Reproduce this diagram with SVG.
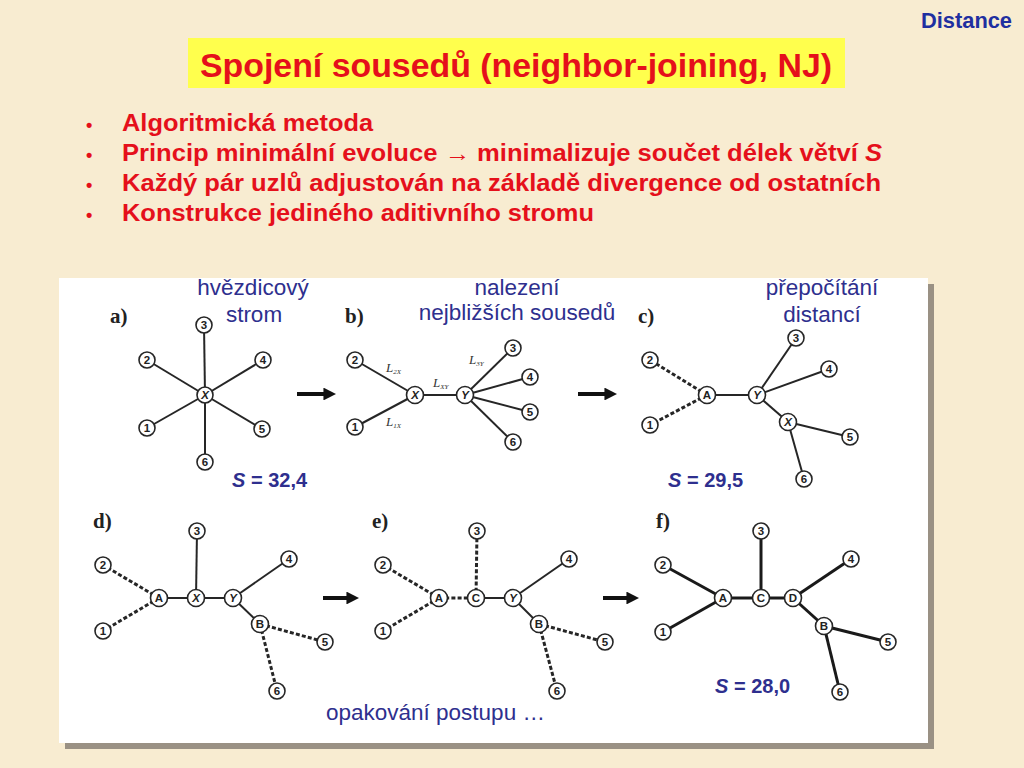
<svg xmlns="http://www.w3.org/2000/svg" width="1024" height="768" viewBox="0 0 1024 768">
<defs>
<style>
.bg{fill:#f8ecd1}
.red{font-family:"Liberation Sans",Arial,sans-serif;font-weight:bold;fill:#e5101b}
.blue{font-family:"Liberation Sans",Arial,sans-serif;fill:#2e2f8e}
.pl{font-family:"Liberation Serif","Times New Roman",serif;font-weight:bold;font-size:21px;fill:#222}
.e{stroke:#262626;stroke-width:2;fill:none}
.d{stroke:#262626;stroke-width:3;stroke-dasharray:4 2.2;fill:none}
.t{stroke:#1a1a1a;stroke-width:3;fill:none}
.n circle{fill:#fff;stroke:#262626;stroke-width:1.6}
.n text{font-family:"Liberation Sans",Arial,sans-serif;font-size:11.5px;font-weight:bold;fill:#222;text-anchor:middle}
.n text.i{font-style:italic}
.lab{font-family:"Liberation Serif","Times New Roman",serif;font-style:italic;font-size:13px;fill:#333}
.lab tspan.s{font-size:7px}
.arr{stroke:#111;stroke-width:4;fill:none}
</style>
<marker id="ah" viewBox="0 0 10 10" refX="2" refY="5" markerWidth="3.2" markerHeight="3.2" orient="auto" markerUnits="strokeWidth">
<path d="M0,0 L10,5 L0,10 z" fill="#111"/>
</marker>
</defs>
<rect class="bg" x="0" y="0" width="1024" height="768"/>
<g id="header">
<text x="1012" y="28" font-family="Liberation Sans, Arial, sans-serif" font-size="22" font-weight="bold" text-anchor="end" fill="#1f2fa0" textLength="91" lengthAdjust="spacingAndGlyphs">Distance</text>
<rect x="188" y="38" width="657" height="50" fill="#ffff4d"/>
<text class="red" x="516" y="77" font-size="34" text-anchor="middle" textLength="632" lengthAdjust="spacingAndGlyphs">Spojení sousedů (neighbor-joining, NJ)</text>
</g>
<g id="bullets" class="red" font-size="23">
<text x="86" y="131" font-size="18">•</text>
<text x="122" y="131" textLength="251" lengthAdjust="spacingAndGlyphs">Algoritmická metoda</text>
<text x="86" y="161" font-size="18">•</text>
<text x="122" y="161" textLength="760" lengthAdjust="spacingAndGlyphs">Princip minimální evoluce → minimalizuje součet délek větví <tspan font-style="italic">S</tspan></text>
<text x="86" y="191" font-size="18">•</text>
<text x="122" y="191" textLength="759" lengthAdjust="spacingAndGlyphs">Každý pár uzlů adjustován na základě divergence od ostatních</text>
<text x="86" y="221" font-size="18">•</text>
<text x="122" y="221" textLength="472" lengthAdjust="spacingAndGlyphs">Konstrukce jediného aditivního stromu</text>
</g>
<g id="panel">
<rect x="65" y="284" width="869" height="465" fill="#9a9184"/>
<rect x="59" y="278" width="869" height="465" fill="#ffffff"/>
</g>
<g id="labels">
<text class="pl" x="110" y="323">a)</text>
<text class="pl" x="345" y="323">b)</text>
<text class="pl" x="638" y="323">c)</text>
<text class="pl" x="93" y="528">d)</text>
<text class="pl" x="372" y="528">e)</text>
<text class="pl" x="656" y="528">f)</text>
<text class="blue" font-size="22.5" text-anchor="middle" x="253" y="295">hvězdicový</text>
<text class="blue" font-size="22.5" text-anchor="middle" x="254" y="322">strom</text>
<text class="blue" font-size="22.5" text-anchor="middle" x="517" y="295">nalezení</text>
<text class="blue" font-size="22.5" text-anchor="middle" x="517" y="320">nejbližších sousedů</text>
<text class="blue" font-size="22.5" text-anchor="middle" x="822" y="295">přepočítání</text>
<text class="blue" font-size="22.5" text-anchor="middle" x="822" y="322">distancí</text>
<text class="blue" font-size="20" font-weight="bold" x="232" y="487"><tspan font-style="italic">S</tspan> = 32,4</text>
<text class="blue" font-size="20" font-weight="bold" x="668" y="487"><tspan font-style="italic">S</tspan> = 29,5</text>
<text class="blue" font-size="20" font-weight="bold" x="715" y="693"><tspan font-style="italic">S</tspan> = 28,0</text>
<text class="blue" font-size="22.5" x="326" y="720">opakování postupu …</text>
<text class="lab" x="386" y="372">L<tspan class="s" dy="2">2X</tspan></text>
<text class="lab" x="386" y="426">L<tspan class="s" dy="2">1X</tspan></text>
<text class="lab" x="433" y="387">L<tspan class="s" dy="2">XY</tspan></text>
<text class="lab" x="469" y="364">L<tspan class="s" dy="2">3Y</tspan></text>
</g>
<g id="connectors">
<line class="e" x1="205" y1="395" x2="204" y2="325"/>
<line class="e" x1="205" y1="395" x2="147" y2="360"/>
<line class="e" x1="205" y1="395" x2="263" y2="360"/>
<line class="e" x1="205" y1="395" x2="147" y2="428"/>
<line class="e" x1="205" y1="395" x2="262" y2="429"/>
<line class="e" x1="205" y1="395" x2="205" y2="462"/>
<line class="arr" x1="297" y1="394" x2="326" y2="394" marker-end="url(#ah)"/>
<line class="e" x1="415" y1="395" x2="355" y2="360"/>
<line class="e" x1="415" y1="395" x2="355" y2="427"/>
<line class="e" x1="415" y1="395" x2="465" y2="395"/>
<line class="e" x1="465" y1="395" x2="513" y2="348"/>
<line class="e" x1="465" y1="395" x2="530" y2="377"/>
<line class="e" x1="465" y1="395" x2="530" y2="412"/>
<line class="e" x1="465" y1="395" x2="513" y2="442"/>
<line class="arr" x1="578" y1="394" x2="607" y2="394" marker-end="url(#ah)"/>
<line class="d" x1="707" y1="395" x2="650" y2="360"/>
<line class="d" x1="707" y1="395" x2="650" y2="425"/>
<line class="e" x1="707" y1="395" x2="757" y2="395"/>
<line class="e" x1="757" y1="395" x2="796" y2="338"/>
<line class="e" x1="757" y1="395" x2="829" y2="369"/>
<line class="e" x1="757" y1="395" x2="788" y2="422"/>
<line class="e" x1="788" y1="422" x2="850" y2="437"/>
<line class="e" x1="788" y1="422" x2="804" y2="479"/>
<line class="d" x1="159" y1="598" x2="103" y2="565"/>
<line class="d" x1="159" y1="598" x2="103" y2="631"/>
<line class="e" x1="159" y1="598" x2="233" y2="598"/>
<line class="e" x1="196" y1="598" x2="197" y2="531"/>
<line class="e" x1="233" y1="598" x2="289" y2="559"/>
<line class="e" x1="233" y1="598" x2="260" y2="624"/>
<line class="d" x1="260" y1="624" x2="325" y2="642"/>
<line class="d" x1="260" y1="624" x2="277" y2="691"/>
<line class="arr" x1="323" y1="598" x2="349" y2="598" marker-end="url(#ah)"/>
<line class="d" x1="439" y1="598" x2="383" y2="565"/>
<line class="d" x1="439" y1="598" x2="383" y2="631"/>
<line class="d" x1="439" y1="598" x2="476" y2="598"/>
<line class="d" x1="476" y1="598" x2="477" y2="531"/>
<line class="e" x1="476" y1="598" x2="513" y2="598"/>
<line class="e" x1="513" y1="598" x2="569" y2="559"/>
<line class="e" x1="513" y1="598" x2="539" y2="624"/>
<line class="d" x1="539" y1="624" x2="605" y2="642"/>
<line class="d" x1="539" y1="624" x2="557" y2="691"/>
<line class="arr" x1="603" y1="598" x2="629" y2="598" marker-end="url(#ah)"/>
<line class="t" x1="723" y1="598" x2="663" y2="565"/>
<line class="t" x1="723" y1="598" x2="663" y2="632"/>
<line class="t" x1="723" y1="598" x2="793" y2="598"/>
<line class="t" x1="761" y1="598" x2="761" y2="531"/>
<line class="t" x1="793" y1="598" x2="851" y2="559"/>
<line class="t" x1="793" y1="598" x2="824" y2="626"/>
<line class="t" x1="824" y1="626" x2="888" y2="642"/>
<line class="t" x1="824" y1="626" x2="840" y2="692"/>
</g>
<g id="tree-a">
<g id="a-X" class="n"><circle cx="205" cy="395" r="8"/><text class="i" x="205" y="399">X</text></g>
<g id="a-1" class="n"><circle cx="147" cy="428" r="8"/><text x="147" y="432">1</text></g>
<g id="a-2" class="n"><circle cx="147" cy="360" r="8"/><text x="147" y="364">2</text></g>
<g id="a-3" class="n"><circle cx="204" cy="325" r="8"/><text x="204" y="329">3</text></g>
<g id="a-4" class="n"><circle cx="263" cy="360" r="8"/><text x="263" y="364">4</text></g>
<g id="a-5" class="n"><circle cx="262" cy="429" r="8"/><text x="262" y="433">5</text></g>
<g id="a-6" class="n"><circle cx="205" cy="462" r="8"/><text x="205" y="466">6</text></g>
</g>
<g id="tree-b">
<g id="b-X" class="n"><circle cx="415" cy="395" r="8.5"/><text class="i" x="415" y="399">X</text></g>
<g id="b-Y" class="n"><circle cx="465" cy="395" r="8.5"/><text class="i" x="465" y="399">Y</text></g>
<g id="b-1" class="n"><circle cx="355" cy="427" r="8"/><text x="355" y="431">1</text></g>
<g id="b-2" class="n"><circle cx="355" cy="360" r="8"/><text x="355" y="364">2</text></g>
<g id="b-3" class="n"><circle cx="513" cy="348" r="8"/><text x="513" y="352">3</text></g>
<g id="b-4" class="n"><circle cx="530" cy="377" r="8"/><text x="530" y="381">4</text></g>
<g id="b-5" class="n"><circle cx="530" cy="412" r="8"/><text x="530" y="416">5</text></g>
<g id="b-6" class="n"><circle cx="513" cy="442" r="8"/><text x="513" y="446">6</text></g>
</g>
<g id="tree-c">
<g id="c-A" class="n"><circle cx="707" cy="395" r="8.5"/><text x="707" y="399">A</text></g>
<g id="c-Y" class="n"><circle cx="757" cy="395" r="8.5"/><text class="i" x="757" y="399">Y</text></g>
<g id="c-X" class="n"><circle cx="788" cy="422" r="8.5"/><text class="i" x="788" y="426">X</text></g>
<g id="c-1" class="n"><circle cx="650" cy="425" r="8"/><text x="650" y="429">1</text></g>
<g id="c-2" class="n"><circle cx="650" cy="360" r="8"/><text x="650" y="364">2</text></g>
<g id="c-3" class="n"><circle cx="796" cy="338" r="8"/><text x="796" y="342">3</text></g>
<g id="c-4" class="n"><circle cx="829" cy="369" r="8"/><text x="829" y="373">4</text></g>
<g id="c-5" class="n"><circle cx="850" cy="437" r="8"/><text x="850" y="441">5</text></g>
<g id="c-6" class="n"><circle cx="804" cy="479" r="8"/><text x="804" y="483">6</text></g>
</g>
<g id="tree-d">
<g id="d-A" class="n"><circle cx="159" cy="598" r="8.5"/><text x="159" y="602">A</text></g>
<g id="d-X" class="n"><circle cx="196" cy="598" r="8.5"/><text class="i" x="196" y="602">X</text></g>
<g id="d-Y" class="n"><circle cx="233" cy="598" r="8.5"/><text class="i" x="233" y="602">Y</text></g>
<g id="d-B" class="n"><circle cx="260" cy="624" r="8.5"/><text x="260" y="628">B</text></g>
<g id="d-1" class="n"><circle cx="103" cy="631" r="8"/><text x="103" y="635">1</text></g>
<g id="d-2" class="n"><circle cx="103" cy="565" r="8"/><text x="103" y="569">2</text></g>
<g id="d-3" class="n"><circle cx="197" cy="531" r="8"/><text x="197" y="535">3</text></g>
<g id="d-4" class="n"><circle cx="289" cy="559" r="8"/><text x="289" y="563">4</text></g>
<g id="d-5" class="n"><circle cx="325" cy="642" r="8"/><text x="325" y="646">5</text></g>
<g id="d-6" class="n"><circle cx="277" cy="691" r="8"/><text x="277" y="695">6</text></g>
</g>
<g id="tree-e">
<g id="e-A" class="n"><circle cx="439" cy="598" r="8.5"/><text x="439" y="602">A</text></g>
<g id="e-C" class="n"><circle cx="476" cy="598" r="8.5"/><text x="476" y="602">C</text></g>
<g id="e-Y" class="n"><circle cx="513" cy="598" r="8.5"/><text class="i" x="513" y="602">Y</text></g>
<g id="e-B" class="n"><circle cx="539" cy="624" r="8.5"/><text x="539" y="628">B</text></g>
<g id="e-1" class="n"><circle cx="383" cy="631" r="8"/><text x="383" y="635">1</text></g>
<g id="e-2" class="n"><circle cx="383" cy="565" r="8"/><text x="383" y="569">2</text></g>
<g id="e-3" class="n"><circle cx="477" cy="531" r="8"/><text x="477" y="535">3</text></g>
<g id="e-4" class="n"><circle cx="569" cy="559" r="8"/><text x="569" y="563">4</text></g>
<g id="e-5" class="n"><circle cx="605" cy="642" r="8"/><text x="605" y="646">5</text></g>
<g id="e-6" class="n"><circle cx="557" cy="691" r="8"/><text x="557" y="695">6</text></g>
</g>
<g id="tree-f">
<g id="f-A" class="n"><circle cx="723" cy="598" r="8.5"/><text x="723" y="602">A</text></g>
<g id="f-C" class="n"><circle cx="761" cy="598" r="8.5"/><text x="761" y="602">C</text></g>
<g id="f-D" class="n"><circle cx="793" cy="598" r="8.5"/><text x="793" y="602">D</text></g>
<g id="f-B" class="n"><circle cx="824" cy="626" r="8.5"/><text x="824" y="630">B</text></g>
<g id="f-1" class="n"><circle cx="663" cy="632" r="8"/><text x="663" y="636">1</text></g>
<g id="f-2" class="n"><circle cx="663" cy="565" r="8"/><text x="663" y="569">2</text></g>
<g id="f-3" class="n"><circle cx="761" cy="531" r="8"/><text x="761" y="535">3</text></g>
<g id="f-4" class="n"><circle cx="851" cy="559" r="8"/><text x="851" y="563">4</text></g>
<g id="f-5" class="n"><circle cx="888" cy="642" r="8"/><text x="888" y="646">5</text></g>
<g id="f-6" class="n"><circle cx="840" cy="692" r="8"/><text x="840" y="696">6</text></g>
</g>
</svg>
